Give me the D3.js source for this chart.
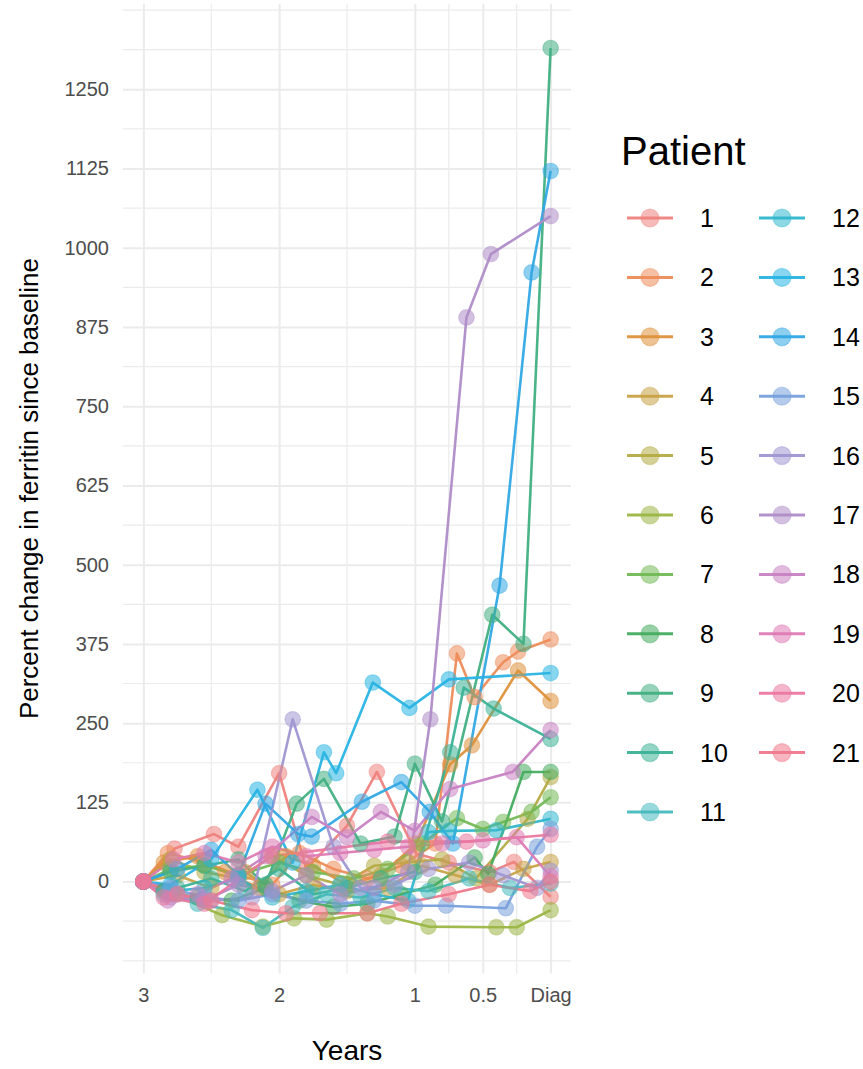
<!DOCTYPE html>
<html>
<head>
<meta charset="utf-8">
<script src="https://cdn.jsdelivr.net/npm/d3@7"></script>
<style>
  html, body { margin: 0; padding: 0; background: #fff; }
  svg { display: block; font-family: "Liberation Sans", Arial, Helvetica, sans-serif; }
</style>
</head>
<body>
<svg id="chart" width="863" height="1069"></svg>
<script>
// Percent change in ferritin since baseline, per patient: [years before diagnosis, % change]
const p1  = [[3,0],[2.77,52],[2.48,75],[2.3,55],[2.0,171],[1.8,20],[1.5,88],[1.28,173],[0.99,44],[0.75,30],[0.45,15],[0.27,31],[0,-24]];
const p2  = [[3,0],[2.82,45],[2.55,30],[2.3,10],[2.05,-5],[1.85,45],[1.6,20],[1.35,5],[1.1,25],[0.85,60],[0.69,360],[0.56,291],[0.35,346],[0.24,363],[0,382]];
const p3  = [[3,0],[2.85,30],[2.6,40],[2.4,15],[2.15,-10],[1.95,40],[1.75,25],[1.5,-5],[1.25,10],[0.99,60],[0.74,185],[0.58,215],[0.24,333],[0,285]];
const p4  = [[3,0],[2.75,10],[2.5,-10],[2.25,15],[2.0,-20],[1.75,-5],[1.5,-15],[1.2,-10],[0.95,25],[0.7,10],[0.45,-5],[0.2,20],[0,31]];
const p5  = [[3,0],[2.8,35],[2.55,15],[2.3,5],[2.05,40],[1.8,10],[1.55,-5],[1.3,25],[1.05,30],[0.8,35],[0.55,5],[0.17,99],[0,165]];
const p6  = [[3,0],[2.78,-20],[2.42,-53],[2.12,-71],[1.89,-58],[1.65,-60],[1.35,-50],[1.2,-55],[0.9,-71],[0.4,-72],[0.25,-72],[0,-45]];
const p7  = [[3,0],[2.8,20],[2.55,25],[2.3,10],[2.0,30],[1.75,15],[1.45,5],[1.2,20],[0.95,60],[0.69,100],[0.5,83],[0.35,94],[0.14,110],[0,133]];
const p8  = [[3,0],[2.85,-15],[2.6,-25],[2.35,-30],[2.1,-10],[1.85,-30],[1.6,-40],[1.35,-35],[1.1,-20],[0.85,-5],[0.56,38],[0.46,12],[0.2,173],[0,173]];
const p9  = [[3,0],[2.8,15],[2.55,25],[2.3,35],[2.1,-5],[1.87,123],[1.67,162],[1.4,60],[1.15,71],[1.0,186],[0.8,95],[0.43,421],[0.2,375],[0,1315]];
const p10 = [[3,0],[2.75,-10],[2.5,5],[2.25,-15],[2.0,20],[1.75,-20],[1.5,-10],[1.25,5],[1.0,15],[0.74,204],[0.64,306],[0.42,273],[0,225]];
const p11 = [[3,0],[2.85,-20],[2.6,-35],[2.35,-45],[2.12,-73],[1.9,-40],[1.65,-20],[1.4,-25],[1.15,-10],[0.9,-15],[0.6,5],[0.3,-10],[0,-3]];
const p12 = [[3,0],[2.8,-15],[2.55,-10],[2.3,5],[2.05,-25],[1.8,-15],[1.55,-5],[1.3,-20],[1.05,-30],[0.9,78],[0.75,80],[0.4,81],[0,99]];
const p13 = [[3,0],[2.8,-5],[2.5,35],[2.16,145],[1.9,30],[1.67,204],[1.58,171],[1.31,314],[1.04,274],[0.75,319],[0,329]];
const p14 = [[3,0],[2.75,20],[2.5,50],[2.3,10],[2.1,123],[1.86,75],[1.76,71],[1.39,126],[1.1,157],[0.89,110],[0.72,60],[0.376,467],[0.14,961],[0,1121]];
const p15 = [[3,0],[2.8,-10],[2.55,-25],[2.3,-30],[2.05,-20],[1.8,-30],[1.55,-35],[1.3,-30],[1.0,-38],[0.77,-38],[0.33,-42],[0.1,55],[0,83]];
const p16 = [[3,0],[2.75,-20],[2.5,-30],[2.2,-25],[1.9,256],[1.6,55],[1.4,-10],[1.15,-5],[0.9,20],[0.6,30],[0.35,10],[0.1,-10],[0,17]];
const p17 = [[3,0],[2.8,-25],[2.55,-30],[2.3,-5],[2.05,-15],[1.8,10],[1.55,-20],[1.3,-10],[1.05,15],[0.886,256],[0.62,890],[0.44,990],[0,1050]];
const p18 = [[3,0],[2.82,-30],[2.6,-20],[2.35,5],[2.1,40],[1.76,102],[1.5,70],[1.25,110],[1.0,80],[0.74,146],[0.28,173],[0,239]];
const p19 = [[3,0],[2.78,35],[2.55,45],[2.3,30],[2.05,55],[1.8,40],[1.55,45],[1.3,50],[1.05,55],[0.8,60],[0.5,65],[0.25,70],[0,8]];
const p20 = [[3,0],[2.85,-25],[2.55,-35],[2.06,40],[1.2,63],[0.62,63],[0,74]];
const p21 = [[3,0],[2.75,-20],[2.5,-30],[2.2,-45],[1.95,-50],[1.7,-50],[1.35,-50],[1.1,-35],[0.75,-20],[0.45,-5],[0.15,-15],[0,0]];

const patients = [p1,p2,p3,p4,p5,p6,p7,p8,p9,p10,p11,p12,p13,p14,p15,p16,p17,p18,p19,p20,p21];
const patientIds = d3.range(1, 22).map(String);

// Patient colours, a soft hue wheel from salmon round to rose
const palette = [
  "#EE827D", "#EE8C5A", "#DE923C", "#C8A246", "#B4AC46", "#9BB646", "#73B955",
  "#46AC5F", "#41AF82", "#3CB296", "#46B9BE", "#32B6CD", "#28B4E4", "#32A8E4",
  "#78A0DC", "#A096D2", "#AF8CC8", "#C882C3", "#DE7AB4", "#EB78A0", "#F0788C"
];

// Axis breaks
const xBreaks = [3, 2, 1, 0.5, 0];
const xBreakLabels = ["3", "2", "1", "0.5", "Diag"];
const xMinor = [2.5, 1.5, 0.75, 0.25];
const yBreaks = [0, 125, 250, 375, 500, 625, 750, 875, 1000, 1125, 1250];
const yMinor = [-125, -62.5, 62.5, 187.5, 312.5, 437.5, 562.5, 687.5, 812.5, 937.5, 1062.5, 1187.5, 1312.5, 1375];

const svg = d3.select("#chart");

// Panel area
const panel = { left: 123, right: 571, top: 3.7, bottom: 973.5 };

const x = d3.scaleLinear().domain([3.15, -0.15]).range([panel.left, panel.right]);
const y = d3.scaleLinear().domain([-145, 1385]).range([panel.bottom, panel.top]);
const color = d3.scaleOrdinal().domain(patientIds).range(palette);

const grid = svg.append("g");
grid.selectAll("line.vminor").data(xMinor).join("line")
  .attr("x1", d => x(d)).attr("x2", d => x(d))
  .attr("y1", panel.top).attr("y2", panel.bottom)
  .attr("stroke", "#ebebeb").attr("stroke-width", 1.2);
grid.selectAll("line.hminor").data(yMinor).join("line")
  .attr("y1", d => y(d)).attr("y2", d => y(d))
  .attr("x1", panel.left).attr("x2", panel.right)
  .attr("stroke", "#ebebeb").attr("stroke-width", 1.2);

// Major grid via axes with full-length ticks
const xAxis = d3.axisBottom(x).tickValues(xBreaks)
  .tickFormat((d, i) => xBreakLabels[i])
  .tickSize(-(panel.bottom - panel.top)).tickPadding(14);
const gx = svg.append("g").attr("transform", `translate(0,${panel.bottom})`).call(xAxis);
gx.select(".domain").remove();
gx.selectAll(".tick line").attr("stroke", "#ebebeb").attr("stroke-width", 2);
gx.selectAll(".tick text").attr("fill", "#4d4d4d").attr("font-size", 20)
  .attr("font-family", "Liberation Sans, Arial, sans-serif");

const yAxis = d3.axisLeft(y).tickValues(yBreaks).tickFormat(d3.format("d"))
  .tickSize(-(panel.right - panel.left)).tickPadding(14);
const gy = svg.append("g").attr("transform", `translate(${panel.left},0)`).call(yAxis);
gy.select(".domain").remove();
gy.selectAll(".tick line").attr("stroke", "#ebebeb").attr("stroke-width", 2);
gy.selectAll(".tick text").attr("fill", "#4d4d4d").attr("font-size", 20)
  .attr("font-family", "Liberation Sans, Arial, sans-serif");

// Patient trajectories
const line = d3.line().x(d => x(d[0])).y(d => y(d[1]));
const series = patients.map((pts, i) => ({ id: patientIds[i], pts }));

const marks = svg.append("g");
marks.selectAll("path.traj").data(series).join("path")
  .attr("class", "traj")
  .attr("d", d => line(d.pts))
  .attr("fill", "none")
  .attr("stroke", d => color(d.id))
  .attr("stroke-width", 2.6)
  .attr("stroke-opacity", 0.95)
  .attr("stroke-linejoin", "round");

marks.selectAll("g.pts").data(series).join("g")
  .attr("class", "pts")
  .selectAll("circle").data(d => d.pts.map(p => ({ id: d.id, p }))).join("circle")
  .attr("cx", d => x(d.p[0]))
  .attr("cy", d => y(d.p[1]))
  .attr("r", 7.8)
  .attr("fill", d => color(d.id))
  .attr("fill-opacity", 0.55)
  .attr("stroke", d => color(d.id))
  .attr("stroke-opacity", 0.4)
  .attr("stroke-width", 1.2);

// Axis titles
svg.append("text")
  .attr("x", (panel.left + panel.right) / 2).attr("y", 1060)
  .attr("text-anchor", "middle").attr("font-size", 28).attr("fill", "#000")
  .text("Years");

svg.append("text")
  .attr("transform", `translate(38,${(panel.top + panel.bottom) / 2}) rotate(-90)`)
  .attr("text-anchor", "middle").attr("font-size", 26).attr("fill", "#000")
  .text("Percent change in ferritin since baseline");

// Legend
const legend = svg.append("g");
legend.append("text")
  .attr("x", 621).attr("y", 165)
  .attr("font-size", 40).attr("fill", "#000")
  .text("Patient");

const rowGap = 59.4;
const items = legend.selectAll("g.item").data(patientIds).join("g")
  .attr("class", "item")
  .attr("transform", (d, i) => {
    const col = i < 11 ? 0 : 1;
    const row = i < 11 ? i : i - 11;
    return `translate(${650 + col * 132},${218 + row * rowGap})`;
  });
items.append("line")
  .attr("x1", -23).attr("x2", 23)
  .attr("stroke", d => color(d)).attr("stroke-width", 3).attr("stroke-opacity", 0.95);
items.append("circle")
  .attr("r", 9)
  .attr("fill", d => color(d)).attr("fill-opacity", 0.55)
  .attr("stroke", d => color(d)).attr("stroke-opacity", 0.4).attr("stroke-width", 1.2);
items.append("text")
  .attr("x", 50).attr("dy", "0.36em")
  .attr("font-size", 25).attr("fill", "#000")
  .text(d => d);
</script>
</body>
</html>
